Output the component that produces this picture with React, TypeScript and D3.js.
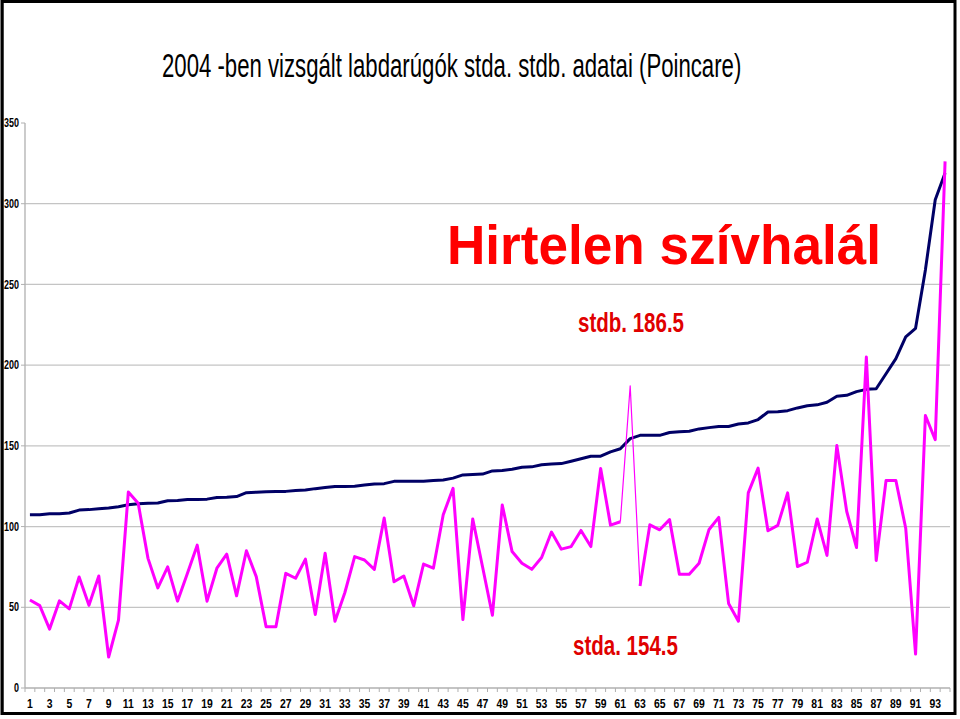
import * as d3 from 'd3';
import React from 'react';

const title = "2004 -ben vizsgált labdarúgók stda. stdb. adatai (Poincare)";

// stdb (sorted ascending) - dark blue line
const stdb = [
  107.3, 107.3, 108, 108, 108.4, 110.2, 110.5, 111, 111.5, 112.3,
  113.5, 114.2, 114.4, 114.6, 116, 116.2, 116.7, 116.7, 117, 118,
  118.2, 118.6, 121, 121.3, 121.6, 121.8, 121.8, 122.4, 122.6, 123.5,
  124.2, 124.8, 124.8, 125, 125.7, 126.4, 126.6, 128, 128, 128,
  128.1, 128.6, 128.9, 130, 132, 132.3, 132.5, 134.5, 134.7, 135.5,
  136.7, 137, 138.3, 138.8, 139, 140.5, 142, 143.6, 143.6, 146.3,
  148.2, 154.5, 156.5, 156.5, 156.5, 158.3, 158.8, 159, 160.5, 161.3,
  162, 162, 163.5, 164.2, 166.3, 171, 171.2, 171.8, 173.5, 174.8,
  175.4, 177, 180.7, 181.3, 183.6, 185, 185.4, 194.7, 204, 217.5,
  222.8, 259, 302.5, 319,
];

// stda - magenta line
const stda = [
  54.5, 51, 36.5, 54, 49, 68.8, 51.2, 69.4, 19.2, 42,
  121.4, 114.5, 80.3, 62, 75, 53.8, 71, 88.5, 53.8, 74.2,
  82.9, 57.1, 85, 69, 38, 38, 71, 68, 79.8, 45.5,
  83.5, 41.4, 59, 81.4, 79.3, 73.5, 105.3, 65.8, 69.4, 50.9,
  76.8, 74.2, 107.3, 123.7, 42.4, 104.7, 75, 45.1, 113.4, 84.5,
  77.3, 73.5, 80.8, 96.6, 86, 87.6, 97.6, 87.6, 136, 100.9,
  103, 187.2, 63.2, 101.1, 98, 104.3, 70.5, 70.5, 77.3, 98,
  105.7, 52.4, 41.4, 120.9, 136.2, 97.4, 100.7, 120.9, 75.2, 77.9,
  104.7, 82.1, 150.2, 109.5, 87, 205, 79, 128.5, 128.5, 99,
  21, 168.8, 153.8, 326.2,
];

const categories = stdb.map((_, i) => i + 1);
const yTicks = [0, 50, 100, 150, 200, 250, 300, 350];
// the two segments around point 62 are drawn with a thin line
const thinStart = 61;
const thinEnd = 63;

const sans = "'Liberation Sans', Arial, sans-serif";

function App(): any {
  const width = 960;
  const height = 719;
  const plot = { left: 25, right: 950, top: 123, bottom: 688 };

  const x = d3.scaleBand<number>()
    .domain(categories)
    .range([plot.left, plot.right])
    .padding(0);

  const y = d3.scaleLinear()
    .domain([0, 350])
    .range([plot.bottom, plot.top]);

  const cx = (i: number): number => (x(categories[i]) || 0) + x.bandwidth() / 2;

  const pathFor = (series: number[], idx: number[]): string =>
    d3.line<number>()
      .x(i => cx(i))
      .y(i => y(series[i]))(idx) || "";

  const allIdx = categories.map((_, i) => i);
  const pinkA = allIdx.filter(i => i <= thinStart - 1);
  const pinkThin = allIdx.filter(i => i >= thinStart - 1 && i <= thinEnd - 1);
  const pinkB = allIdx.filter(i => i >= thinEnd - 1);

  const tickXs = categories.map(c => x(c) || 0).concat([plot.right]);

  return (
    <svg
      width={width}
      height={height}
      style={{ position: "absolute", left: 0, top: 0, background: "#fff" }}
      fontFamily={sans}
    >
      <rect x={0} y={0} width={width} height={height} fill="#fff" />
      {/* frame */}
      <rect x={3.5} y={2.5} width={952} height={711} fill="none" stroke="#888" strokeWidth={1} />
      <rect x={2} y={1.5} width={953} height={712} fill="none" stroke="#000" strokeWidth={3} />

      {/* narrow title: condensed horizontally */}
      <text
        transform="translate(162,77) scale(0.672,1)"
        fontSize={33}
        fill="#000"
      >
        {title}
      </text>

      {/* grid */}
      <g>
        {yTicks.filter(t => t > 0 && t < 350).map(t => (
          <line key={t} x1={plot.left} x2={plot.right} y1={y(t)} y2={y(t)} stroke="#c4c4c4" strokeWidth={1.3} />
        ))}
      </g>

      {/* y axis */}
      <g>
        <line x1={plot.left} x2={plot.left} y1={plot.top} y2={plot.bottom} stroke="#b0b0b0" strokeWidth={1.3} />
        {yTicks.map(t => (
          <g key={t} transform={"translate(0," + y(t) + ")"}>
            <line x1={plot.left - 4} x2={plot.left} stroke="#b0b0b0" strokeWidth={1} />
            <text
              transform="translate(19,0) scale(0.75,1)"
              dy="0.35em"
              textAnchor="end"
              fontSize={12}
              fontWeight="bold"
              fill="#000"
            >
              {t}
            </text>
          </g>
        ))}
      </g>

      {/* x axis */}
      <g>
        <line x1={plot.left} x2={plot.right} y1={plot.bottom} y2={plot.bottom} stroke="#b0b0b0" strokeWidth={1.3} />
        {tickXs.map((tx, i) => (
          <line key={i} x1={tx} x2={tx} y1={plot.bottom} y2={plot.bottom + 4} stroke="#b0b0b0" strokeWidth={1} />
        ))}
        {categories.filter(c => c % 2 === 1).map(c => (
          <text
            key={c}
            transform={"translate(" + ((x(c) || 0) + x.bandwidth() / 2) + ",708) scale(0.8,1)"}
            textAnchor="middle"
            fontSize={13}
            fontWeight="bold"
            fill="#000"
          >
            {c}
          </text>
        ))}
      </g>

      {/* series */}
      <path d={pathFor(stdb, allIdx)} fill="none" stroke="#000066" strokeWidth={3} strokeLinejoin="round" />
      <path d={pathFor(stda, pinkA)} fill="none" stroke="#ff00ff" strokeWidth={3} strokeLinejoin="round" />
      <path d={pathFor(stda, pinkThin)} fill="none" stroke="#ff00ff" strokeWidth={1.2} strokeLinejoin="round" />
      <path d={pathFor(stda, pinkB)} fill="none" stroke="#ff00ff" strokeWidth={3} strokeLinejoin="round" />

      {/* annotations */}
      <text
        x={447}
        y={264}
        fontSize={55}
        fontWeight="bold"
        fill="#ff0000"
        textLength={434}
        lengthAdjust="spacingAndGlyphs"
      >
        Hirtelen szívhalál
      </text>
      <text
        x={578}
        y={332}
        fontSize={27}
        fontWeight="bold"
        fill="#e00000"
        textLength={106}
        lengthAdjust="spacingAndGlyphs"
      >
        stdb. 186.5
      </text>
      <text
        x={573}
        y={655}
        fontSize={27}
        fontWeight="bold"
        fill="#e00000"
        textLength={105}
        lengthAdjust="spacingAndGlyphs"
      >
        stda. 154.5
      </text>
    </svg>
  );
}

export default App;
